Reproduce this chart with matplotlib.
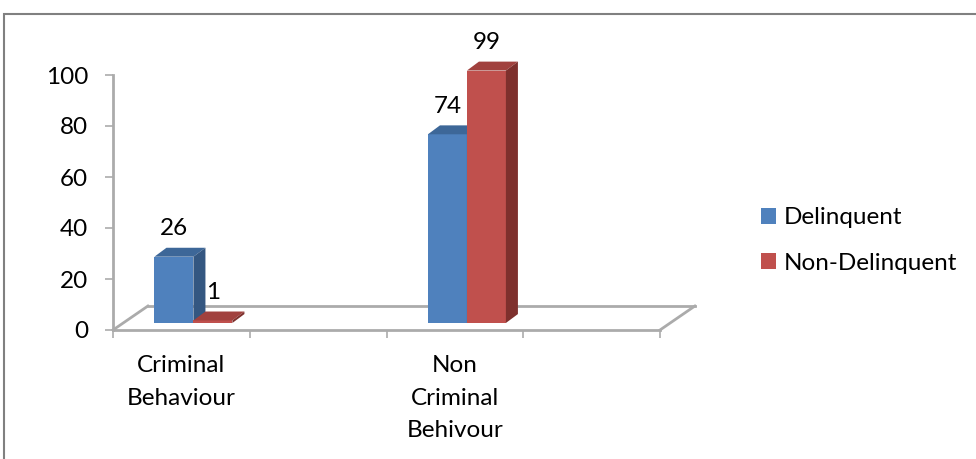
import matplotlib
matplotlib.use("Agg")
import matplotlib.pyplot as plt
from matplotlib.patches import Polygon, Rectangle, Patch

plt.rcParams['font.family'] = ['Lato', 'DejaVu Sans']

# chart data
categories = ['Criminal\nBehaviour', '', 'Non\nCriminal\nBehivour', '']
series_names = ['Delinquent', 'Non-Delinquent']
delinquent = [26, None, 74, None]
non_delinquent = [1, None, 99, None]
y_ticks = [0, 20, 40, 60, 80, 100]

front_colors = ['#4F81BD', '#C0504D']
top_colors = ['#3D6798', '#A1413E']
side_colors = ['#345781', '#7E302D']
grey = '#ABABAB'
fs = 17.5

W, H, DPI = 976, 459, 100
fig = plt.figure(figsize=(W / DPI, H / DPI), dpi=DPI)
ax = fig.add_axes([113 / W, (H - 330) / H, (660 - 113) / W, (330 - 75) / H])
ax.set_xlim(0, len(categories))
ax.set_ylim(0, 100)

# 3d offsets in data units
floor_dx, floor_dy = 0.255, 9.4
base_dx, base_dy = 0.088, 2.75
bar_dx, bar_dy = 0.088, 3.5
bar_w = 0.285

# floor outline
n = len(categories)
ax.plot([floor_dx, n + floor_dx], [floor_dy, floor_dy], color=grey, lw=2, clip_on=False, zorder=1)
ax.plot([0, floor_dx], [0, floor_dy], color=grey, lw=2, clip_on=False, zorder=1)
ax.plot([n, n + floor_dx], [0, floor_dy], color=grey, lw=2, clip_on=False, zorder=1)

for s, vals in enumerate([delinquent, non_delinquent]):
    for i, v in enumerate(vals):
        if v is None:
            continue
        x0 = i + 0.5 + base_dx - bar_w + s * bar_w
        y0 = base_dy
        z = 3 + s
        ax.bar(x0, v, width=bar_w, bottom=y0, align='edge', color=front_colors[s],
               edgecolor='none', zorder=z, clip_on=False)
        top = [(x0, y0 + v), (x0 + bar_w, y0 + v), (x0 + bar_w + bar_dx, y0 + v + bar_dy),
               (x0 + bar_dx, y0 + v + bar_dy)]
        side = [(x0 + bar_w, y0), (x0 + bar_w + bar_dx, y0 + bar_dy),
                (x0 + bar_w + bar_dx, y0 + v + bar_dy), (x0 + bar_w, y0 + v)]
        ax.add_patch(Polygon(top, closed=True, fc=top_colors[s], ec='none', zorder=z, clip_on=False))
        ax.add_patch(Polygon(side, closed=True, fc=side_colors[s], ec='none', zorder=z, clip_on=False))
        ax.annotate(str(v), (x0 + bar_w / 2, y0 + v), xytext=(0, 20), textcoords='offset points',
                    ha='center', va='center', fontsize=fs, zorder=10, annotation_clip=False)

for side in ['top', 'right']:
    ax.spines[side].set_visible(False)
for side in ['left', 'bottom']:
    ax.spines[side].set_color(grey)
    ax.spines[side].set_linewidth(2)
ax.set_facecolor('none')

ax.set_yticks(y_ticks)
ax.tick_params(axis='y', length=6, width=1.2, color=grey, pad=12, labelsize=fs)
ax.set_xticks(range(n + 1))
ax.set_xticklabels([])
ax.set_xticks([i + 0.5 for i in range(n)], minor=True)
ax.set_xticklabels(categories, minor=True, fontsize=fs, linespacing=1.68)
ax.tick_params(axis='x', which='major', length=6, width=1.2, color=grey)
ax.tick_params(axis='x', which='minor', length=0, pad=18)

handles = [Patch(facecolor=c, edgecolor='none') for c in front_colors]
fig.legend(handles, series_names, loc='center left', bbox_to_anchor=(761 / W, 1 - 240.5 / H),
           frameon=False, fontsize=fs, handlelength=0.62, handleheight=0.62,
           handletextpad=0.33, labelspacing=1.0, borderpad=0, borderaxespad=0)

fig.add_artist(Rectangle((4 / W, -0.2), 2, 1.2 - 14 / H, transform=fig.transFigure,
                         fill=False, ec='#808080', lw=1.5))

fig.savefig('out.png', dpi=DPI)
